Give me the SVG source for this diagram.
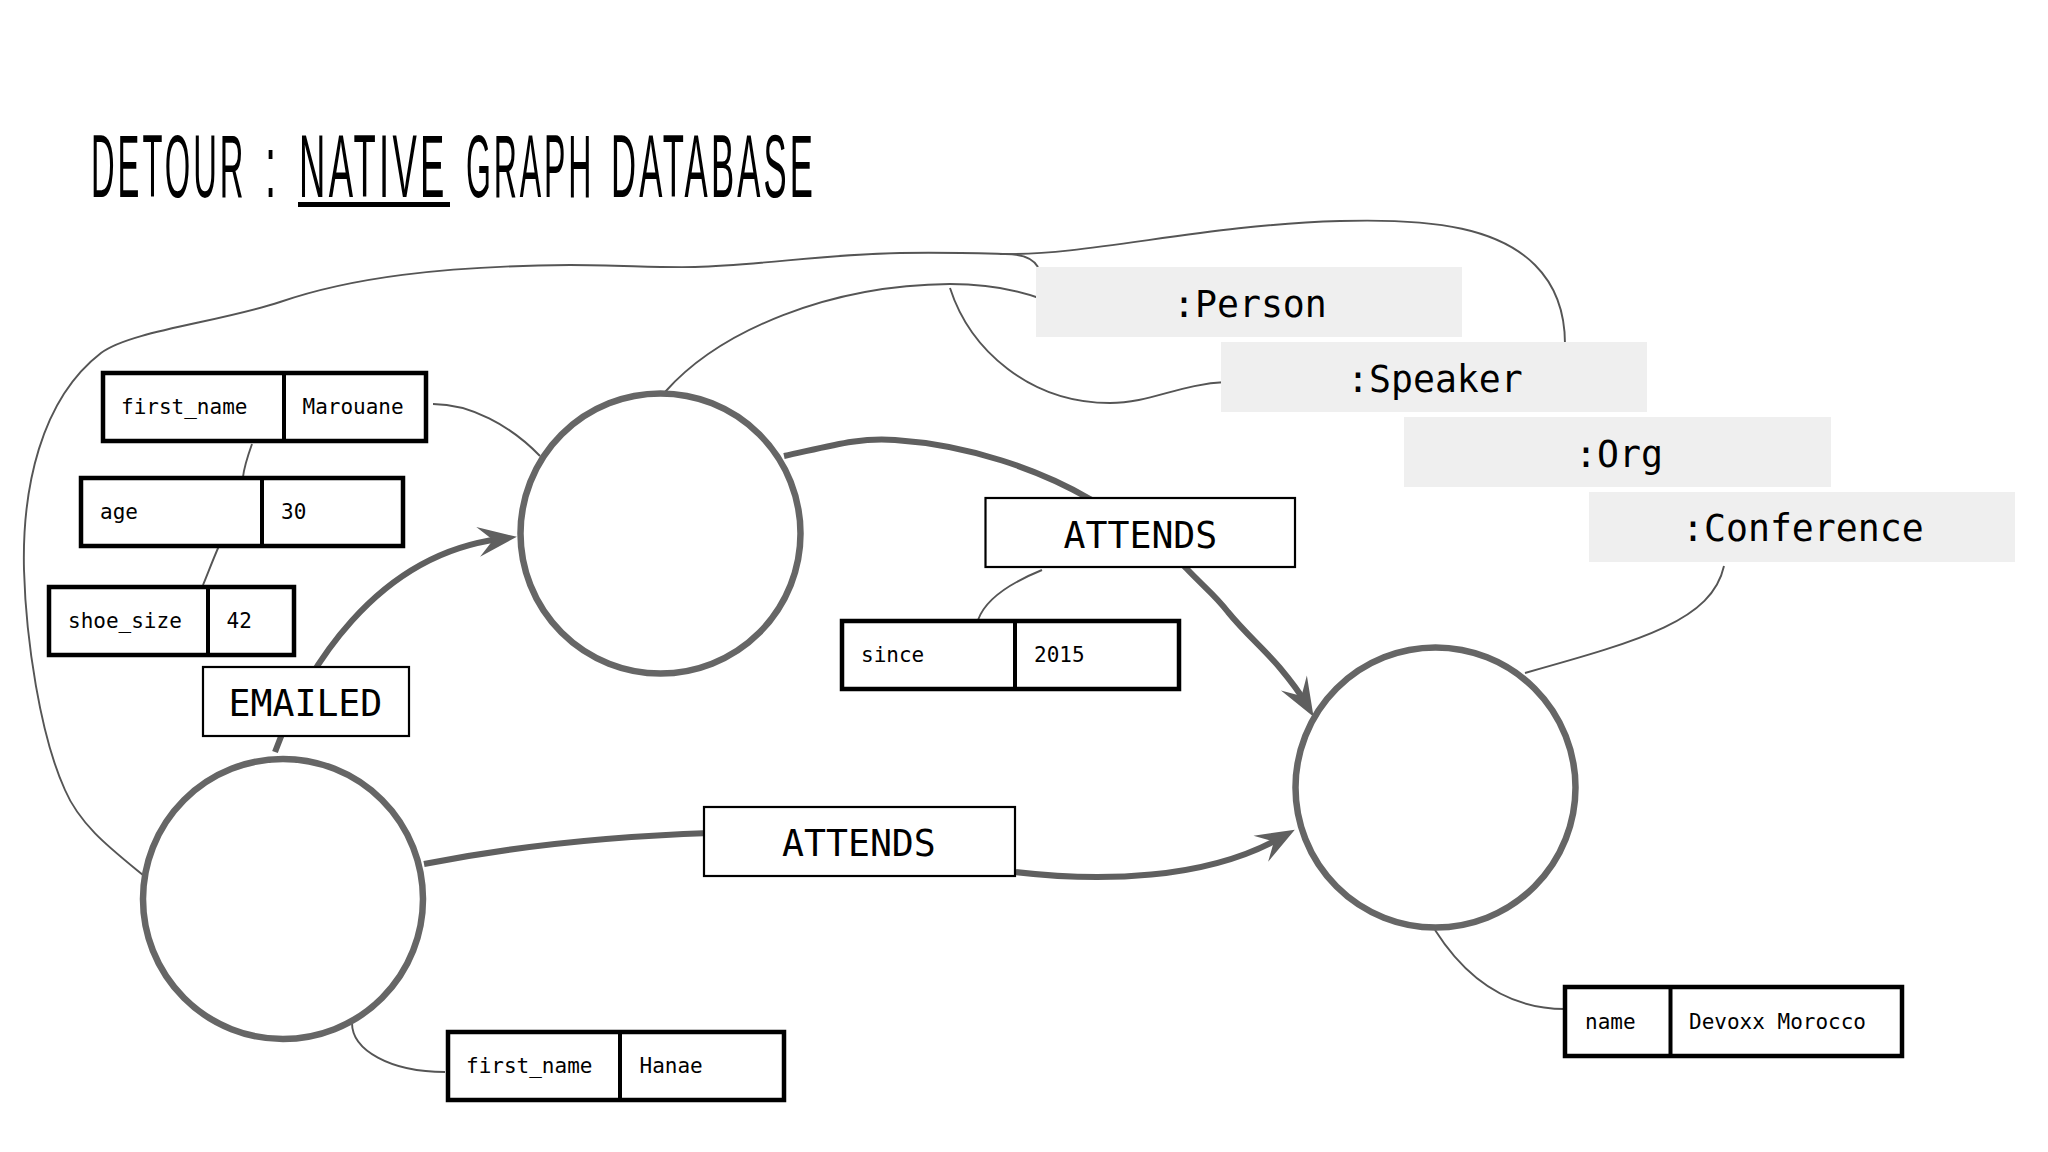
<svg xmlns="http://www.w3.org/2000/svg" width="2048" height="1152" viewBox="0 0 2048 1152">
<style>
text{font-family:"DejaVu Sans Mono","Liberation Mono",monospace;fill:#000}
.title{font-family:"Liberation Sans",Arial,sans-serif;font-size:89px;letter-spacing:8px}
.p{font-size:21px}
.r{font-size:36.5px}
.cell{fill:#fff;stroke:#000;stroke-width:4.5}
.div{stroke:#000;stroke-width:4;fill:none}
.rel{fill:#fff;stroke:#000;stroke-width:2.2}
.lab{fill:#efefef}
.node{fill:#fff;stroke:#666;stroke-width:6.500}
.thick{fill:none;stroke:#5f5f5f;stroke-width:6}
.thin{fill:none;stroke:#555;stroke-width:1.9}
</style>
<defs>
<marker id="ah" viewBox="-42 -17 44 34" refX="-17" refY="0" markerWidth="44" markerHeight="34" markerUnits="userSpaceOnUse" orient="auto">
<path d="M0 0 L-39 -15 L-24 0 L-39 15 Z" fill="#5f5f5f"/>
</marker>
</defs>
<rect width="2048" height="1152" fill="#fff"/>
<g id="title">
<text class="title" transform="translate(91 197) scale(.368 1)">DETOUR</text>
<text class="title" transform="translate(265 197) scale(.45 1)">:</text>
<text class="title" transform="translate(299 197) scale(.41 1)">NATIVE</text>
<rect x="298" y="202" width="152" height="5"/>
<text class="title" transform="translate(466 197) scale(.36 1)">GRAPH</text>
<text class="title" transform="translate(611 197) scale(.39 1)">DATABASE</text>
</g>
<g id="connectors">
<path class="thin" d="M143 875 C110 848 80 825 65 790 C40 735 26 640 24 570 C22 490 40 400 101 353 C130 331 220 322 280 302 C350 278 440 266 570 265 C620 265 660 268 695 267 C760 265 830 254 900 253 C950 252 1000 254 1005 254 C1020 254 1033 258 1038 267"/>
<path class="thin" d="M1000 254 C1090 256 1200 225 1340 221 C1440 218 1500 230 1535 265 C1560 290 1565 320 1565 344"/>
<path class="thin" d="M665 392 C720 330 830 285 950 284 C985 284 1015 289 1042 299"/>
<path class="thin" d="M950 288 C970 350 1030 403 1110 403 C1150 403 1180 384 1226 382"/>
<path class="thin" d="M1724 566 C1712 620 1643 640 1525 673"/>
<path class="thin" d="M433 404 C470 404 510 425 540 456"/>
<path class="thin" d="M252 444 C247 458 244 468 243 477"/>
<path class="thin" d="M218.500 547 C212 562 208 573 203 585"/>
<path class="thin" d="M1042 570 C1010 583 985 600 978 620"/>
<path class="thin" d="M352 1023 C352 1050 390 1072 445 1072"/>
<path class="thin" d="M1435 930 C1470 985 1515 1009 1565 1009"/>
<path class="thick" marker-end="url(#ah)" d="M275 752 C305 670 375 555 500 539"/>
<path class="thick" marker-end="url(#ah)" d="M784 456 C830 446 860 437 895 440 C970 445 1040 470 1090 499 C1120 520 1170 550 1186 568 C1205 588 1215 595 1228 612 C1245 633 1265 650 1280 668 C1290 680 1298 690 1305 702"/>
<path class="thick" marker-end="url(#ah)" d="M424 864 C520 845 620 836 710 833 C800 830 900 865 1015 872 C1100 882 1205 880 1280 838"/>
</g>
<g id="node-marouane"><circle class="node" cx="660.500" cy="533.500" r="140"/></g>
<g id="node-hanae"><circle class="node" cx="283" cy="899" r="140"/></g>
<g id="node-conference"><circle class="node" cx="1435.500" cy="787.500" r="140"/></g>
<g id="prop-first-name">
<rect class="cell" x="103" y="373" width="323" height="68"/><path class="div" d="M284 373V441"/>
<text class="p" x="121" y="414">first_name</text><text class="p" x="302.500" y="414">Marouane</text>
</g>
<g id="prop-age">
<rect class="cell" x="81" y="478" width="322" height="68"/><path class="div" d="M262 478V546"/>
<text class="p" x="100" y="519">age</text><text class="p" x="281" y="519">30</text>
</g>
<g id="prop-shoe-size">
<rect class="cell" x="49" y="587" width="245" height="68"/><path class="div" d="M208 587V655"/>
<text class="p" x="68" y="628">shoe_size</text><text class="p" x="226.500" y="628">42</text>
</g>
<g id="prop-since">
<rect class="cell" x="842" y="621" width="337" height="68"/><path class="div" d="M1015 621V689"/>
<text class="p" x="861" y="662">since</text><text class="p" x="1034" y="662">2015</text>
</g>
<g id="prop-hanae">
<rect class="cell" x="448" y="1032" width="336" height="68"/><path class="div" d="M620 1032V1100"/>
<text class="p" x="466" y="1073">first_name</text><text class="p" x="639.500" y="1073">Hanae</text>
</g>
<g id="prop-devoxx">
<rect class="cell" x="1565" y="987" width="337" height="69"/><path class="div" d="M1670.500 987V1056"/>
<text class="p" x="1585" y="1029">name</text><text class="p" x="1689" y="1029">Devoxx Morocco</text>
</g>
<g id="rel-emailed">
<rect class="rel" x="203" y="667" width="206" height="69"/>
<text class="r" x="228.500" y="716">EMAILED</text>
</g>
<g id="rel-attends-top">
<rect class="rel" x="985.500" y="498" width="309.500" height="69"/>
<text class="r" x="1063.500" y="548">ATTENDS</text>
</g>
<g id="rel-attends-bottom">
<rect class="rel" x="704" y="807" width="311" height="69"/>
<text class="r" x="782" y="856">ATTENDS</text>
</g>
<g id="label-person"><rect class="lab" x="1036" y="267" width="426" height="70"/><text class="r" x="1173" y="317">:Person</text></g>
<g id="label-speaker"><rect class="lab" x="1221" y="342" width="426" height="70"/><text class="r" x="1347" y="392">:Speaker</text></g>
<g id="label-org"><rect class="lab" x="1404" y="417" width="427" height="70"/><text class="r" x="1575" y="467">:Org</text></g>
<g id="label-conference"><rect class="lab" x="1589" y="492" width="426" height="70"/><text class="r" x="1682" y="541">:Conference</text></g>
</svg>
